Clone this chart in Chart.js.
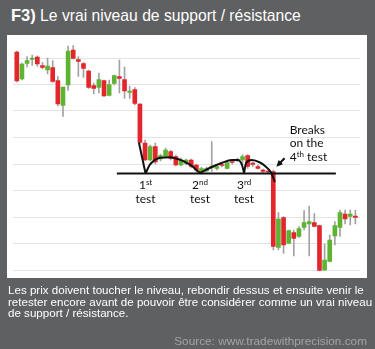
<!DOCTYPE html>
<html>
<head>
<meta charset="utf-8">
<script src="https://cdn.jsdelivr.net/npm/chart.js@4.4.1/dist/chart.umd.min.js"></script>
<style>
  html, body { margin: 0; padding: 0; }
  body { width: 375px; height: 349px; background: #5f6062; position: relative; overflow: hidden;
         font-family: "Liberation Sans", Arial, sans-serif; }
  #title { position: absolute; left: 11px; top: 6px; color: #fff; font-size: 15.7px; white-space: nowrap; }
  #title b { font-size: 16.5px; }
  #panel { position: absolute; left: 7px; top: 35px; width: 360px; height: 243px; background: #fff; }
  #chart { position: absolute; left: 0; top: 0; }
  #note { position: absolute; left: 8px; top: 284px; width: 366px; color: #fff; font-size: 11.6px; line-height: 11.5px; }
  #source { position: absolute; right: 8px; top: 334px; color: #a4a4a4; font-size: 11.8px; }
</style>
</head>
<body>
<div id="title"><b>F3)</b> Le vrai niveau de support / résistance</div>
<div id="panel"></div>
<canvas id="chart" width="375" height="349"></canvas>
<div id="note">Les prix doivent toucher le niveau, rebondir dessus et ensuite venir le retester encore avant de pouvoir être considérer comme un vrai niveau de support / résistance.</div>
<div id="source">Source: www.tradewithprecision.com</div>

<script>
// candles (price units, one per session)
const opens = [244.5, 217.5, 233, 237, 239.5, 231, 226.5, 229, 216, 191, 211.5, 246.5, 237, 233, 225.5, 211, 209, 216, 201, 213,
  220, 217, 204, 207, 192.5, 153.5, 136.5, 150, 137.5, 140, 145, 140, 131.5, 133, 136.5, 131.5, 124.5, 125.5, 129, 128,
  132, 128, 135, 136, 136.5, 141, 133.5, 130, 126.5, 125.5, 125, 49, 79, 53, 64, 60, 69, 72.5, 74, 71,
  26.5, 35, 60.5, 69, 82.5, 80, 80.5];
const closes = [215.5, 232.5, 236, 238.5, 232.5, 229, 230.5, 215, 192.5, 209.5, 245.5, 238, 235, 228, 209, 208, 217, 200.5, 212, 221,
  218, 205.5, 205.5, 193, 154, 136.5, 150, 134.5, 141, 146.5, 138, 131.5, 136.5, 136.5, 130, 126.5, 128, 128, 130.5, 130,
  131, 134, 134, 137, 140, 130, 132, 128, 125, 124.5, 50, 77.5, 51.5, 66, 58, 68, 74, 75, 70, 26,
  36.5, 56.5, 71, 84, 77.5, 82.5, 79];
const highs = [245.5, 233.5, 240, 241.5, 240.5, 234, 238.5, 236, 220, 209.5, 250.5, 251, 240, 234, 226.5, 213.5, 223.5, 216.5, 216.5, 221.5,
  236.5, 229.5, 210.5, 209, 193, 156.5, 151.5, 153.5, 142.5, 148.5, 146.5, 141.5, 138.5, 137.5, 137.5, 132.5, 129.5, 129.5, 155, 131.5,
  133.5, 135.5, 136.5, 138.5, 142, 142, 134.5, 131.5, 127.5, 126.5, 126.5, 84, 80, 66.5, 66.5, 70, 86, 90.5, 83, 71.5,
  52.5, 61.5, 75, 86.5, 86.5, 86.5, 86.5];
const lows = [214.5, 216.5, 229.5, 231, 230, 227.5, 222.5, 214, 190.5, 180, 206, 237.5, 220, 219, 208, 202.5, 203.5, 200, 200.5, 211.5,
  203.5, 198, 198, 191.5, 153, 135.5, 135.5, 132.5, 135.5, 138.5, 136.5, 130.5, 130.5, 131.5, 128.5, 124.5, 122.5, 124.5, 125, 126.5,
  129.5, 127.5, 132.5, 134.5, 131.5, 128, 130, 127.5, 124, 123.5, 46.5, 46.5, 43, 53, 40.5, 59, 66.5, 40.5, 69.5, 25.5,
  26, 34.5, 51.5, 60, 72.5, 71.5, 72.5];
const sessions = opens.map((o, i) => i);

// support level and the hand drawn bounces
const supportLevel = 123;
const supportFrom = 19.5, supportTo = 62.2;
const dropLine = [[23.8, 154], [25.1, 123]];
const bounce1 = [[25.1, 123], [25.9, 131.5], [26.9, 136.5], [27.9, 138.8], [29.8, 139.2], [31.4, 137.5], [32.7, 134.8], [34.1, 130.8], [35.0, 126.5], [35.7, 123.5]];
const bounce2 = [[35.7, 123.5], [37.6, 128.5], [39.9, 133.5], [41.9, 136.5], [43.1, 136.5], [43.9, 131.5], [44.3, 123.5]];
const bounce3 = [[44.3, 123.5], [44.7, 133.5], [45.8, 136.5], [47.4, 134], [48.5, 130], [49.5, 124.5], [50.3, 114.5]];

const testLabels = [['1', 'st'], ['2', 'nd'], ['3', 'rd']];
const testAt = [25.1, 35.7, 44.3];

const RED = '#e3262b', GREEN = '#5fb332', WICK = '#a2a2a2';

const pts = arr => arr.map(p => ({ x: p[0], y: p[1] }));
const curve = arr => ({
  type: 'line', data: pts(arr), borderColor: '#111', borderWidth: 2, pointRadius: 0,
  cubicInterpolationMode: 'monotone', order: 0
});

const notes = {
  id: 'notes',
  afterDatasetsDraw(chart) {
    const { ctx, scales: { x, y } } = chart;
    ctx.save();
    ctx.fillStyle = '#111';
    ctx.textBaseline = 'middle';
    const supText = (parts, cx, cy, align) => {
      ctx.font = '12px Lato';
      const w0 = ctx.measureText(parts[0]).width;
      ctx.font = '8px Lato';
      const w1 = ctx.measureText(parts[1]).width;
      ctx.font = '12px Lato';
      const w2 = parts[2] ? ctx.measureText(parts[2]).width : 0;
      let left = align === 'left' ? cx : cx - (w0 + w1 + w2) / 2;
      ctx.textAlign = 'left';
      ctx.fillText(parts[0], left, cy);
      ctx.font = '8px Lato';
      ctx.fillText(parts[1], left + w0, cy - 3);
      if (parts[2]) { ctx.font = '12px Lato'; ctx.fillText(parts[2], left + w0 + w1, cy); }
    };
    testLabels.forEach((lab, k) => {
      const px = x.getPixelForValue(testAt[k]);
      supText(lab, px, y.getPixelForValue(111));
      ctx.font = '12px Lato';
      ctx.textAlign = 'center';
      ctx.fillText('test', px, y.getPixelForValue(97.5));
    });
    const bx = x.getPixelForValue(53.2);
    ctx.font = '12px Lato';
    ctx.textAlign = 'left';
    ctx.fillText('Breaks', bx, y.getPixelForValue(166.5));
    ctx.fillText('on the', bx, y.getPixelForValue(153));
    supText(['4', 'th', ' test'], bx, y.getPixelForValue(139.5), 'left');

    // arrow
    const x1 = x.getPixelForValue(52.2), y1 = y.getPixelForValue(138.2);
    const x2 = x.getPixelForValue(50.6), y2 = y.getPixelForValue(129.8);
    const a = Math.atan2(y2 - y1, x2 - x1);
    ctx.strokeStyle = '#111';
    ctx.lineWidth = 2;
    ctx.beginPath();
    ctx.moveTo(x1, y1);
    ctx.lineTo(x2 - 3 * Math.cos(a), y2 - 3 * Math.sin(a));
    ctx.stroke();
    ctx.beginPath();
    ctx.moveTo(x2, y2);
    ctx.lineTo(x2 - 7 * Math.cos(a - 0.45), y2 - 7 * Math.sin(a - 0.45));
    ctx.lineTo(x2 - 7 * Math.cos(a + 0.45), y2 - 7 * Math.sin(a + 0.45));
    ctx.closePath();
    ctx.fill();
    ctx.restore();
  }
};

new Chart(document.getElementById('chart'), {
  type: 'bar',
  data: {
    datasets: [
      {
        type: 'line',
        data: [{ x: supportFrom, y: supportLevel }, { x: supportTo, y: supportLevel }],
        borderColor: '#111', borderWidth: 2, pointRadius: 0, order: 0
      },
      curve(dropLine), curve(bounce1), curve(bounce2), curve(bounce3),
      {
        data: sessions.map(i => ({ x: i, y: [opens[i], closes[i]] })),
        backgroundColor: sessions.map(i => closes[i] >= opens[i] ? GREEN : RED),
        barThickness: 4, minBarLength: 1, grouped: false, order: 1
      },
      {
        data: sessions.map(i => ({ x: i, y: [lows[i], highs[i]] })),
        backgroundColor: WICK,
        barThickness: 1, grouped: false, order: 2
      }
    ]
  },
  options: {
    responsive: false,
    animation: false,
    layout: { padding: { left: 12.7, right: 15, top: 36, bottom: 71 } },
    plugins: { legend: { display: false }, tooltip: { enabled: false } },
    scales: {
      x: { type: 'linear', display: false, min: -0.8, max: 66.9, offset: false },
      y: {
        min: 18.5, max: 260.5,
        ticks: { display: false, stepSize: 26.5, includeBounds: false },
        grid: { color: '#e3e3e3', drawTicks: false },
        border: { display: false }
      }
    }
  },
  plugins: [notes]
});
</script>
</body>
</html>
